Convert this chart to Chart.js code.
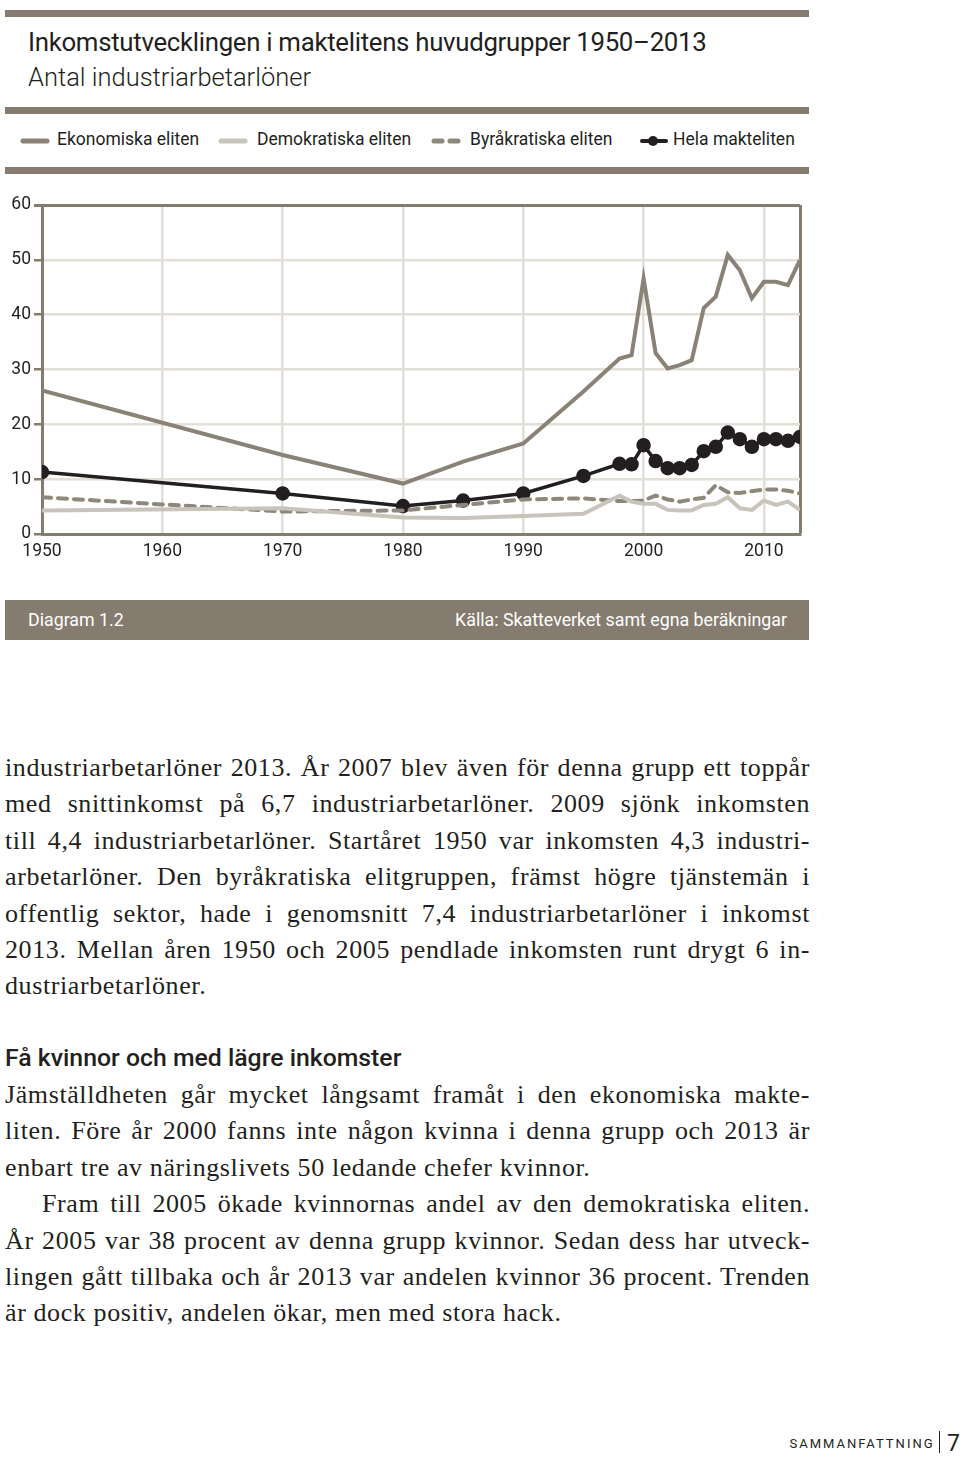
<!DOCTYPE html>
<html>
<head>
<meta charset="utf-8">
<script src="https://cdn.jsdelivr.net/npm/chart.js@4.4.1/dist/chart.umd.min.js"></script>
<style>
  body { margin: 0; background: #fff; width: 960px; height: 1460px; position: relative; overflow: hidden; }
  .sans { font-family: Roboto, "Noto Sans", sans-serif; }
  .bar { position: absolute; left: 5px; width: 804px; background: #857b6e; }
  #title { position: absolute; left: 28px; top: 27px; font-size: 25.8px; color: #231f20; letter-spacing: -0.3px; }
  #subtitle { position: absolute; left: 28px; top: 62px; font-size: 25.5px; color: #231f20; font-weight: 300; }
  .leg { position: absolute; top: 129px; font-size: 17.5px; color: #231f20; }
  .leg svg { position: absolute; top: 1px; }
  #chartBox { position: absolute; left: 0; top: 185px; width: 820px; height: 390px; }
  #foot { position: absolute; left: 5px; top: 600px; width: 804px; height: 40px; background: #857b6e; color: #fff; font-size: 17.8px; }
  #foot span { position: absolute; top: 9px; }
  .txt { position: absolute; left: 5px; width: 805px; font-family: "Liberation Serif", "DejaVu Serif", serif; font-size: 26px; letter-spacing: 0.6px; color: #231f20; }
  .txt div { height: 36.4px; line-height: 36.4px; white-space: nowrap; }
  .j { text-align: justify; text-align-last: justify; }
  #head2 { position: absolute; left: 5px; top: 1043px; font-size: 24.8px; font-weight: 500; color: #231f20; }
  #pagefoot { position: absolute; right: 0; top: 1430px; color: #231f20; }
</style>
</head>
<body>
<div class="bar" style="top:10px;height:7px"></div>
<div id="title" class="sans">Inkomstutvecklingen i maktelitens huvudgrupper 1950–2013</div>
<div id="subtitle" class="sans">Antal industriarbetarlöner</div>
<div class="bar" style="top:107px;height:7px"></div>

<div class="leg sans" style="left:20px"><svg width="30" height="20" style="left:0"><line x1="3" y1="11" x2="27" y2="11" stroke="#8a8276" stroke-width="5" stroke-linecap="round"/></svg><span style="margin-left:37px">Ekonomiska eliten</span></div>
<div class="leg sans" style="left:218px"><svg width="30" height="20" style="left:0"><line x1="3" y1="11" x2="27" y2="11" stroke="#c8c3bb" stroke-width="5" stroke-linecap="round"/></svg><span style="margin-left:39px">Demokratiska eliten</span></div>
<div class="leg sans" style="left:431px"><svg width="30" height="20" style="left:0"><line x1="3" y1="11" x2="27" y2="11" stroke="#8e877b" stroke-width="5" stroke-linecap="round" stroke-dasharray="8 8"/></svg><span style="margin-left:39px">Byråkratiska eliten</span></div>
<div class="leg sans" style="left:640px"><svg width="30" height="20" style="left:0"><line x1="2" y1="11" x2="26" y2="11" stroke="#231f20" stroke-width="4" stroke-linecap="round"/><circle cx="13" cy="11" r="5" fill="#231f20"/></svg><span style="margin-left:33px">Hela makteliten</span></div>
<div class="bar" style="top:167px;height:7px"></div>

<div id="chartBox"><canvas id="chart"></canvas></div>

<div id="foot" class="sans"><span style="left:23px">Diagram 1.2</span><span style="right:22px">Källa: Skatteverket samt egna beräkningar</span></div>

<div class="txt" style="top:750px">
  <div class="j">industriarbetarlöner 2013. År 2007 blev även för denna grupp ett toppår</div>
  <div class="j">med snittinkomst på 6,7 industriarbetarlöner. 2009 sjönk inkomsten</div>
  <div class="j">till 4,4 industriarbetarlöner. Startåret 1950 var inkomsten 4,3 industri-</div>
  <div class="j">arbetarlöner. Den byråkratiska elitgruppen, främst högre tjänstemän i</div>
  <div class="j">offentlig sektor, hade i genomsnitt 7,4 industriarbetarlöner i inkomst</div>
  <div class="j">2013. Mellan åren 1950 och 2005 pendlade inkomsten runt drygt 6 in-</div>
  <div>dustriarbetarlöner.</div>
</div>
<div id="head2" class="sans">Få kvinnor och med lägre inkomster</div>
<div class="txt" style="top:1077px">
  <div class="j">Jämställdheten går mycket långsamt framåt i den ekonomiska makte-</div>
  <div class="j">liten. Före år 2000 fanns inte någon kvinna i denna grupp och 2013 är</div>
  <div>enbart tre av näringslivets 50 ledande chefer kvinnor.</div>
  <div class="j" style="padding-left:37px">Fram till 2005 ökade kvinnornas andel av den demokratiska eliten.</div>
  <div class="j">År 2005 var 38 procent av denna grupp kvinnor. Sedan dess har utveck-</div>
  <div class="j">lingen gått tillbaka och år 2013 var andelen kvinnor 36 procent. Trenden</div>
  <div>är dock positiv, andelen ökar, men med stora hack.</div>
</div>
<div id="pagefoot" class="sans"><span style="font-size:13px;letter-spacing:2px;position:relative;top:-3px">SAMMANFATTNING</span><span style="display:inline-block;width:1.5px;height:22px;background:#231f20;margin:0 7px 0 4px;vertical-align:-2px"></span><span style="font-size:23px">7</span></div>

<script>
const years      = [1950, 1970, 1980, 1985, 1990, 1995, 1998, 1999, 2000, 2001, 2002, 2003, 2004, 2005, 2006, 2007, 2008, 2009, 2010, 2011, 2012, 2013];
const ekonomiska = [26.2, 14.4, 9.2, 13.2, 16.5, 26.0, 32.0, 32.6, 46.6, 33.0, 30.2, 30.8, 31.7, 41.2, 43.3, 50.9, 48.1, 43.0, 46.0, 46.0, 45.4, 50.0];
const demokratiska = [4.3, 4.7, 3.0, 2.9, 3.3, 3.7, 7.0, 5.9, 5.5, 5.5, 4.4, 4.3, 4.3, 5.3, 5.5, 6.7, 4.7, 4.4, 6.1, 5.3, 5.9, 4.4];
const byrakratiska = [6.7, 4.1, 4.3, 5.3, 6.3, 6.5, 6.0, 6.0, 6.1, 7.0, 6.3, 5.9, 6.3, 6.6, 8.9, 7.6, 7.5, 7.8, 8.1, 8.1, 7.9, 7.4];
const hela       = [11.3, 7.4, 5.1, 6.1, 7.4, 10.6, 12.8, 12.7, 16.2, 13.3, 12.0, 12.0, 12.6, 15.1, 15.9, 18.5, 17.3, 15.9, 17.3, 17.3, 17.0, 17.7];
const xTicks = [1950, 1960, 1970, 1980, 1990, 2000, 2010];
const yTicks = [0, 10, 20, 30, 40, 50, 60];

const DARK = '#857b6e';
const GRID = '#e2ded8';

function pts(values) {
  return years.map((y, i) => ({ x: y, y: values[i] }));
}

const ctx = document.getElementById('chart').getContext('2d');
new Chart(ctx, {
  type: 'line',
  data: {
    datasets: [
      { label: 'Demokratiska eliten', data: pts(demokratiska), borderColor: '#c8c3bb', borderWidth: 4, pointRadius: 0, tension: 0 },
      { label: 'Byråkratiska eliten', data: pts(byrakratiska), borderColor: '#8e877b', borderWidth: 4, borderDash: [9, 7], borderCapStyle: 'round', pointRadius: 0, tension: 0 },
      { label: 'Ekonomiska eliten', data: pts(ekonomiska), borderColor: '#8a8276', borderWidth: 4, pointRadius: 0, tension: 0 },
      { label: 'Hela makteliten', data: pts(hela), borderColor: '#231f20', backgroundColor: '#231f20', borderWidth: 3.5, pointRadius: 5.5, pointHoverRadius: 5.5, tension: 0 }
    ]
  },
  options: {
    responsive: true,
    maintainAspectRatio: false,
    animation: false,
    layout: { padding: { top: 20, right: 20, left: 0, bottom: 0 } },
    plugins: { legend: { display: false }, tooltip: { enabled: false } },
    scales: {
      x: {
        type: 'linear',
        min: 1950,
        max: 2013,
        afterBuildTicks: s => { s.ticks = xTicks.concat([2013]).map(v => ({ value: v })); },
        afterFit: s => { s.height = 41; },
        ticks: {
          callback: v => (v === 2013 ? '' : String(v)),
          color: '#231f20',
          font: { family: 'Roboto', size: 17.5 },
          padding: 7,
          maxRotation: 0,
          autoSkip: false
        },
        grid: {
          drawTicks: false,
          lineWidth: c => (c.tick && c.tick.value === 2013 ? 3 : 2.5),
          color: c => (c.tick && c.tick.value === 2013 ? DARK : GRID)
        },
        border: { color: DARK, width: 3 }
      },
      y: {
        min: 0,
        max: 60,
        afterBuildTicks: s => { s.ticks = yTicks.map(v => ({ value: v })); },
        afterFit: s => { s.width = 42; },
        ticks: {
          color: '#231f20',
          font: { family: 'Roboto', size: 17.5 },
          padding: 3
        },
        grid: {
          tickLength: 8,
          tickColor: DARK,
          lineWidth: c => (c.tick && c.tick.value === 60 ? 3 : 2.5),
          color: c => (c.tick && c.tick.value === 60 ? DARK : GRID)
        },
        border: { color: DARK, width: 3 }
      }
    }
  }
});
</script>
</body>
</html>
